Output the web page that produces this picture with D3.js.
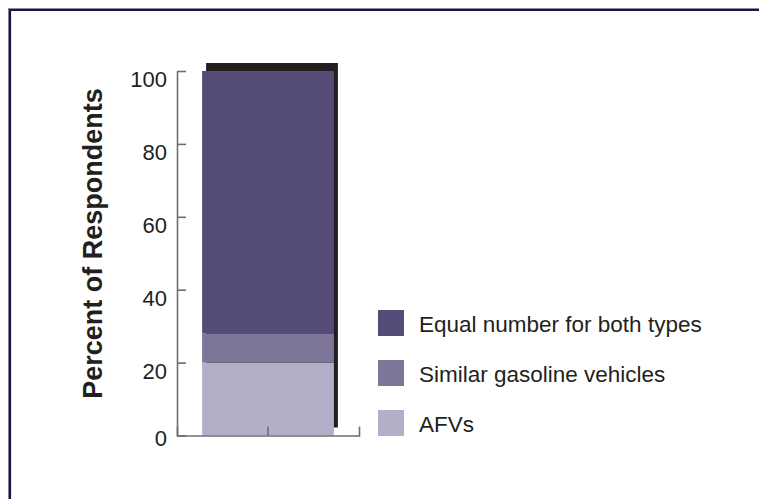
<!DOCTYPE html>
<html>
<head>
<meta charset="utf-8">
<script src="https://cdn.jsdelivr.net/npm/d3@7"></script>
<style>
  body { margin: 0; background: #fff; }
  svg { display: block; font-family: "Liberation Sans", Arial, sans-serif; }
</style>
</head>
<body>
<div id="chart"></div>
<script>
const categories = ["All respondents"];
const seriesNames = ["AFVs", "Similar gasoline vehicles", "Equal number for both types"];
const seriesValues = [20, 8, 72];
const seriesColors = ["#b2afc8", "#7d7699", "#554c77"];
const yTicks = [0, 20, 40, 60, 80, 100];

const width = 759, height = 499;

const svg = d3.select("#chart")
    .append("svg")
    .attr("width", width)
    .attr("height", height);

// frame (top and left edges only)
svg.append("path")
    .attr("d", "M9.5,499V9.5H759")
    .attr("fill", "none")
    .attr("stroke", "#8e8aa6")
    .attr("stroke-width", 3);
svg.append("path")
    .attr("d", "M10,499V10H759")
    .attr("fill", "none")
    .attr("stroke", "#1b1446")
    .attr("stroke-width", 2.2);

const x = d3.scaleBand()
    .domain(categories)
    .range([177, 359])
    .padding(0.16);

const y = d3.scaleLinear()
    .domain([0, 100])
    .range([435.5, 71]);

// stack the segments
let acc = 0;
const segments = seriesValues.map((v, i) => {
    const s = { name: seriesNames[i], y0: acc, y1: acc + v, color: seriesColors[i] };
    acc += v;
    return s;
});

// drop shadow behind the bar
svg.append("rect")
    .attr("x", x(categories[0]) + 4)
    .attr("y", y(acc) - 8)
    .attr("width", x.bandwidth())
    .attr("height", y(0) - y(acc))
    .attr("fill", "#231f20");

svg.selectAll(".seg")
    .data(segments)
    .join("rect")
    .attr("class", "seg")
    .attr("x", x(categories[0]))
    .attr("y", d => y(d.y1))
    .attr("width", x.bandwidth())
    .attr("height", d => y(d.y0) - y(d.y1))
    .attr("fill", d => d.color);

// y axis, ticks pointing inward
const yAxis = svg.append("g")
    .attr("transform", "translate(177,0)")
    .call(d3.axisLeft(y).tickValues(yTicks).tickSizeInner(-9).tickSizeOuter(0).tickPadding(10));
yAxis.selectAll("text")
    .attr("dy", d => d === 0 ? "0.45em" : "0.7em")
    .attr("fill", "#231f20")
    .style("font-size", "22px");

// x axis, ticks pointing up
const xAxis = svg.append("g")
    .attr("transform", `translate(0,${y(0)})`)
    .call(d3.axisTop(x).tickSizeInner(9).tickSizeOuter(9).tickFormat(""));

svg.selectAll(".domain, .tick line")
    .attr("stroke", "#6d6e71")
    .attr("stroke-width", 1.6);

// y title
svg.append("text")
    .attr("transform", "translate(102,243.5) rotate(-90)")
    .attr("text-anchor", "middle")
    .attr("fill", "#231f20")
    .style("font-size", "27px")
    .style("font-weight", "bold")
    .text("Percent of Respondents");

// legend
const legendItems = seriesNames.map((n, i) => ({ name: n, color: seriesColors[i] })).reverse();
const legend = svg.append("g")
    .attr("transform", "translate(378,310)")
    .selectAll("g")
    .data(legendItems)
    .join("g")
    .attr("transform", (d, i) => `translate(0,${i * 50})`);
legend.append("rect")
    .attr("width", 26)
    .attr("height", 26)
    .attr("fill", d => d.color);
legend.append("text")
    .attr("x", 41)
    .attr("y", 22)
    .attr("fill", "#231f20")
    .style("font-size", "22.5px")
    .text(d => d.name);
</script>
</body>
</html>
